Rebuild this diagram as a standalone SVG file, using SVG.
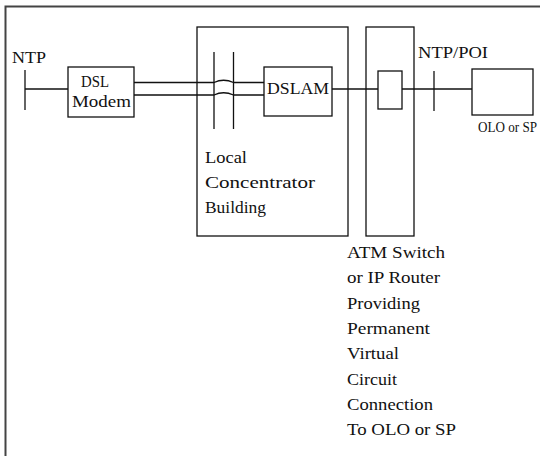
<svg xmlns="http://www.w3.org/2000/svg" width="540" height="456" viewBox="0 0 540 456" font-family="'Liberation Serif', 'DejaVu Serif', serif" font-size="17">
<style>
.box{fill:none;stroke:#111;stroke-width:1.3}
.ln{fill:none;stroke:#111;stroke-width:1.3}
text{font-family:'Liberation Serif','DejaVu Serif',serif;font-size:17px;fill:#111}
</style>
<rect width="540" height="456" fill="#fff"/>
<path d="M5.5,460 V6.5 H545" fill="none" stroke="#444" stroke-width="2"/>
<g id="connectors">
<path class="ln" d="M25,89 H68"/>
<path class="ln" d="M134,82.5 H214 Q223.5,78 233.5,82.5 H264"/>
<path class="ln" d="M134,95 H214 Q223.5,90.5 233.5,95 H264"/>
<path class="ln" d="M332,89 H378"/>
<path class="ln" d="M402,89 H472"/>
</g>
<g id="ntp">
<text x="12" y="63" textLength="34" lengthAdjust="spacingAndGlyphs">NTP</text>
<path class="ln" d="M25,70 V110"/>
</g>
<g id="dsl-modem">
<rect class="box" x="68" y="67" width="66" height="50"/>
<text x="81" y="87" textLength="28" lengthAdjust="spacingAndGlyphs">DSL</text>
<text x="72" y="107" textLength="59" lengthAdjust="spacingAndGlyphs">Modem</text>
</g>
<g id="local-concentrator">
<rect class="box" x="197" y="27" width="151" height="209"/>
<path class="ln" d="M214,52 V129 M233.5,52 V129"/>
<text x="205" y="163" textLength="42" lengthAdjust="spacingAndGlyphs">Local</text>
<text x="205" y="188" textLength="110" lengthAdjust="spacingAndGlyphs">Concentrator</text>
<text x="205" y="213" textLength="61" lengthAdjust="spacingAndGlyphs">Building</text>
</g>
<g id="dslam">
<rect class="box" x="264" y="67" width="68" height="49"/>
<text x="267" y="94" textLength="62" lengthAdjust="spacingAndGlyphs">DSLAM</text>
</g>
<g id="atm-switch">
<rect class="box" x="366" y="27" width="48" height="209"/>
<rect class="box" x="378" y="71" width="24" height="38"/>
<text x="347" y="258" textLength="98" lengthAdjust="spacingAndGlyphs">ATM Switch</text>
<text x="347" y="283" textLength="93" lengthAdjust="spacingAndGlyphs">or IP Router</text>
<text x="347" y="309" textLength="73" lengthAdjust="spacingAndGlyphs">Providing</text>
<text x="347" y="334" textLength="83" lengthAdjust="spacingAndGlyphs">Permanent</text>
<text x="347" y="359" textLength="52" lengthAdjust="spacingAndGlyphs">Virtual</text>
<text x="347" y="385" textLength="50" lengthAdjust="spacingAndGlyphs">Circuit</text>
<text x="347" y="410" textLength="86" lengthAdjust="spacingAndGlyphs">Connection</text>
<text x="347" y="435" textLength="109" lengthAdjust="spacingAndGlyphs">To OLO or SP</text>
</g>
<g id="ntp-poi">
<text x="418" y="58" textLength="70" lengthAdjust="spacingAndGlyphs">NTP/POI</text>
<path class="ln" d="M434,71 V111"/>
</g>
<g id="olo">
<rect class="box" x="472" y="69" width="61" height="46"/>
<text x="478" y="132" style="font-size:13.8px" textLength="59" lengthAdjust="spacingAndGlyphs">OLO or SP</text>
</g>
</svg>
